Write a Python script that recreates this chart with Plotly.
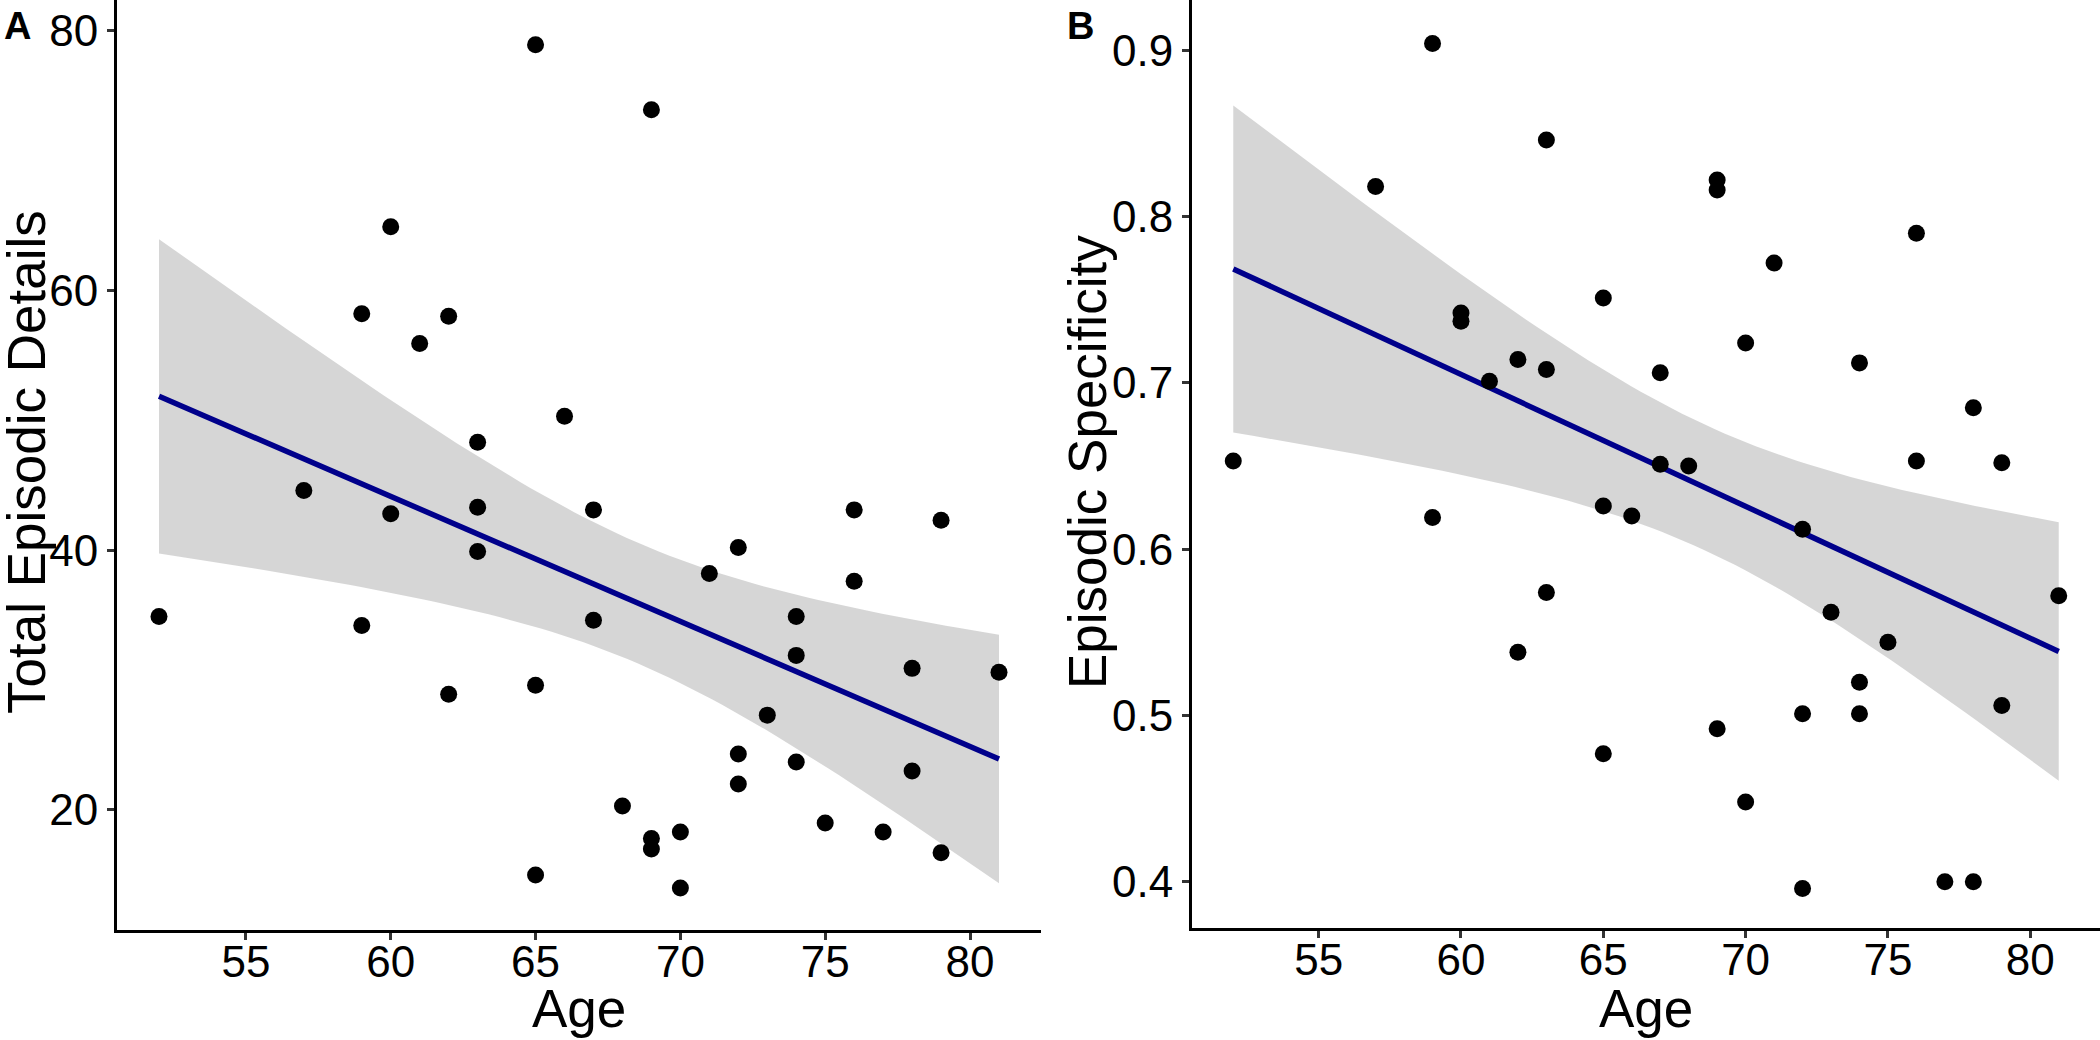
import numpy as np
import plotly.graph_objects as go

# ---------------- data ----------------
age_a = [65, 69, 60, 59, 62, 61, 66, 63, 57, 63, 67, 76, 79, 60,
         52, 59, 63, 72, 71, 76, 67, 74, 74, 78, 81, 65, 62, 73,
         72, 74, 78, 72, 68, 75, 70, 77, 69, 69, 79, 65, 70]
details_a = [78.9, 73.9, 64.9, 58.2, 58.0, 55.9, 50.3, 48.3, 44.6, 43.3, 43.1, 43.1, 42.3, 42.8,
             34.9, 34.2, 39.9, 40.2, 38.2, 37.6, 34.6, 34.9, 31.9, 30.9, 30.6, 29.6, 28.9, 27.3,
             24.3, 23.7, 23.0, 22.0, 20.3, 19.0, 18.3, 18.3, 17.8, 17.0, 16.7, 15.0, 14.0]

age_b = [59, 63, 57, 69, 69, 76, 71, 65, 60, 60, 70, 62, 74, 63, 67, 61, 78, 52, 67, 68,
         76, 79, 65, 66, 59, 72, 63, 81, 73, 75, 62, 74, 72, 74, 79, 69, 65, 70, 72, 77, 78]
specificity_b = [0.904, 0.846, 0.818, 0.822, 0.816, 0.790, 0.772, 0.751, 0.742, 0.737,
                 0.724, 0.714, 0.712, 0.708, 0.706, 0.701, 0.685, 0.653, 0.651, 0.650,
                 0.653, 0.652, 0.626, 0.620, 0.619, 0.612, 0.574, 0.572, 0.562, 0.544,
                 0.538, 0.520, 0.501, 0.501, 0.506, 0.492, 0.477, 0.448, 0.396, 0.400, 0.400]

x_ticks = [55, 60, 65, 70, 75, 80]
y_ticks_a = [20, 40, 60, 80]
y_ticks_b = [0.4, 0.5, 0.6, 0.7, 0.8, 0.9]
y_tick_text_b = ["0.4", "0.5", "0.6", "0.7", "0.8", "0.9"]

T_975_DF39 = 2.022691  # Student t quantile for the 95% band (n = 41)


def lm_band(x, y, n_grid=80):
    x = np.asarray(x, float)
    y = np.asarray(y, float)
    n = len(x)
    xb = x.mean()
    sxx = ((x - xb) ** 2).sum()
    b1 = ((x - xb) * (y - y.mean())).sum() / sxx
    b0 = y.mean() - b1 * xb
    resid = y - (b0 + b1 * x)
    s = np.sqrt((resid ** 2).sum() / (n - 2))
    g = np.linspace(x.min(), x.max(), n_grid)
    fit = b0 + b1 * g
    se = s * np.sqrt(1.0 / n + (g - xb) ** 2 / sxx)
    return g, fit, fit - T_975_DF39 * se, fit + T_975_DF39 * se


FONT = "Liberation Sans, Arial, sans-serif"
W, H = 2100, 1040
RIBBON = "rgba(153,153,153,0.4)"
LINE = "#00008B"

fig = go.Figure()

for (xs, ys, xa, ya) in [(age_a, details_a, "x", "y"), (age_b, specificity_b, "x2", "y2")]:
    g, fit, lo, hi = lm_band(xs, ys)
    fig.add_trace(go.Scatter(
        x=np.concatenate([g, g[::-1]]), y=np.concatenate([hi, lo[::-1]]),
        fill="toself", fillcolor=RIBBON, line=dict(width=0), mode="lines",
        hoverinfo="skip", showlegend=False, xaxis=xa, yaxis=ya))
    fig.add_trace(go.Scatter(
        x=g, y=fit, mode="lines", line=dict(color=LINE, width=5.5),
        showlegend=False, xaxis=xa, yaxis=ya))
    fig.add_trace(go.Scatter(
        x=xs, y=ys, mode="markers",
        marker=dict(color="black", size=17, line=dict(width=0)),
        showlegend=False, xaxis=xa, yaxis=ya))

axis_common = dict(
    showline=True, linecolor="black", linewidth=3,
    ticks="outside", ticklen=7, tickwidth=3, tickcolor="#333333",
    showgrid=False, zeroline=False, mirror=False,
    tickfont=dict(family=FONT, size=44, color="black"),
)
x_extra = dict(ticklabelstandoff=-16)

fig.update_layout(
    width=W, height=H,
    margin=dict(l=0, r=0, t=0, b=0),
    paper_bgcolor="white", plot_bgcolor="white",
    showlegend=False,
    xaxis=dict(domain=[117 / W, 1041 / W], range=[50.55, 82.45],
               tickvals=x_ticks, anchor="y", **axis_common, **x_extra),
    yaxis=dict(domain=[(H - 930) / H, 1.0], range=[10.76, 82.35],
               tickvals=y_ticks_a, anchor="x", **axis_common),
    xaxis2=dict(domain=[1192 / W, 1.0], range=[50.55, 82.45],
                tickvals=x_ticks, anchor="y2", **axis_common, **x_extra),
    yaxis2=dict(domain=[(H - 928) / H, 1.0], range=[0.3722, 0.9302],
                tickvals=y_ticks_b, ticktext=y_tick_text_b, anchor="x2", **axis_common),
)

title_font = dict(family=FONT, size=53, color="black")
ann = [
    dict(text="Age", x=(117 + 1041) / 2 / W, y=(H - 1008) / H, xref="paper", yref="paper",
         xanchor="center", yanchor="middle", showarrow=False, font=title_font),
    dict(text="Age", x=(1192 + 2100) / 2 / W, y=(H - 1008) / H, xref="paper", yref="paper",
         xanchor="center", yanchor="middle", showarrow=False, font=title_font),
    dict(text="Total Episodic Details", x=26 / W, y=(H - 462) / H, xref="paper", yref="paper",
         xanchor="center", yanchor="middle", textangle=-90, showarrow=False, font=title_font),
    dict(text="Episodic Specificity", x=1087 / W, y=(H - 462) / H, xref="paper", yref="paper",
         xanchor="center", yanchor="middle", textangle=-90, showarrow=False, font=title_font),
    dict(text="<b>A</b>", x=2 / W, y=(H - 3) / H, xref="paper", yref="paper",
         xanchor="left", yanchor="top", showarrow=False,
         font=dict(family=FONT, size=38, color="black")),
    dict(text="<b>B</b>", x=1065 / W, y=(H - 3) / H, xref="paper", yref="paper",
         xanchor="left", yanchor="top", showarrow=False,
         font=dict(family=FONT, size=38, color="black")),
]
fig.update_layout(annotations=ann)

fig.write_html(
    "out.html",
    config={"displayModeBar": False},
    post_script="document.body.style.margin='0';document.body.style.overflow='hidden';",
)
